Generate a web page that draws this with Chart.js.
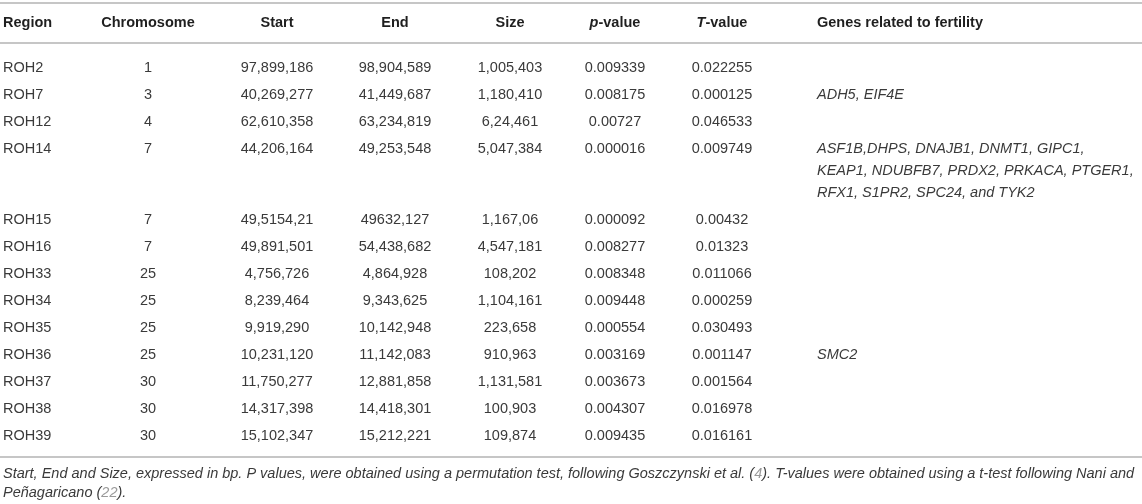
<!DOCTYPE html>
<html>
<head>
<meta charset="utf-8">
<script src="https://cdn.jsdelivr.net/npm/chart.js@4.4.1/dist/chart.umd.min.js"></script>
<style>
  html, body { margin: 0; padding: 0; background: #fff; }
  #table { display: block; }
</style>
</head>
<body>
<canvas id="table" width="1142" height="504"></canvas>
<script>
// table values (kept as printed, odd digit groups included)
const headers = ['Region', 'Chromosome', 'Start', 'End', 'Size', 'p-value', 'T-value', 'Genes related to fertility'];
const regions = ['ROH2', 'ROH7', 'ROH12', 'ROH14', 'ROH15', 'ROH16', 'ROH33', 'ROH34', 'ROH35', 'ROH36', 'ROH37', 'ROH38', 'ROH39'];
const chromosomes = [1, 3, 4, 7, 7, 7, 25, 25, 25, 25, 30, 30, 30];
const starts = ['97,899,186', '40,269,277', '62,610,358', '44,206,164', '49,5154,21', '49,891,501', '4,756,726', '8,239,464', '9,919,290', '10,231,120', '11,750,277', '14,317,398', '15,102,347'];
const ends = ['98,904,589', '41,449,687', '63,234,819', '49,253,548', '49632,127', '54,438,682', '4,864,928', '9,343,625', '10,142,948', '11,142,083', '12,881,858', '14,418,301', '15,212,221'];
const sizes = ['1,005,403', '1,180,410', '6,24,461', '5,047,384', '1,167,06', '4,547,181', '108,202', '1,104,161', '223,658', '910,963', '1,131,581', '100,903', '109,874'];
const pValues = ['0.009339', '0.008175', '0.00727', '0.000016', '0.000092', '0.008277', '0.008348', '0.009448', '0.000554', '0.003169', '0.003673', '0.004307', '0.009435'];
const tValues = ['0.022255', '0.000125', '0.046533', '0.009749', '0.00432', '0.01323', '0.011066', '0.000259', '0.030493', '0.001147', '0.001564', '0.016978', '0.016161'];
const genes = [
  [], ['ADH5, EIF4E'], [],
  ['ASF1B,DHPS, DNAJB1, DNMT1, GIPC1,', 'KEAP1, NDUBFB7, PRDX2, PRKACA, PTGER1,', 'RFX1, S1PR2, SPC24, and TYK2'],
  [], [], [], [], [], ['SMC2'], [], [], []
];
const footnote = [
  [['Start, End and Size, expressed in bp. P values, were obtained using a permutation test, following Goszczynski et al. (', 0], ['4', 1], ['). T-values were obtained using a t-test following Nani and', 0]],
  [['Peñagaricano (', 0], ['22', 1], [').', 0]]
];

// layout (scale units are canvas pixels)
const W = 1142, H = 504;
const colX = [3, 148, 277, 395, 510, 615, 722, 817];
const colAlign = ['left', 'center', 'center', 'center', 'center', 'center', 'center', 'left'];
const RULES_Y = [3, 43];
const HEADER_Y = 23;
const FIRST_ROW_Y = 68;
const ROW_H = 27;
const LINE_H = 22;
const FOOT_Y = [474, 493];

const FONT = '"Liberation Sans", Arial, Helvetica, sans-serif';
const TEXT = '#3a3a3a';
const HEAD = '#1f1f1f';
const RULE = '#c6c6c6';

const rowY = [];
let yy = FIRST_ROW_Y;
regions.forEach((r, i) => {
  rowY.push(yy);
  yy += ROW_H + Math.max(0, genes[i].length - 1) * LINE_H;
});
const BOTTOM_RULE_Y = rowY[rowY.length - 1] + 21;

const columns = [regions, chromosomes, starts, ends, sizes, pValues, tValues, genes.map(g => g[0] || '')];

const datasets = columns.map((col, c) => ({
  label: headers[c],
  data: rowY.map(y => ({ x: colX[c], y })),
  texts: col,
  pointRadius: 0,
  showLine: false
}));

function drawRuns(ctx, runs, x, y, align) {
  let total = 0;
  runs.forEach(r => { ctx.font = r.font; total += ctx.measureText(r.t).width; });
  let cx = align === 'center' ? x - total / 2 : x;
  ctx.textAlign = 'left';
  runs.forEach(r => {
    ctx.font = r.font;
    ctx.fillStyle = r.color;
    ctx.fillText(r.t, cx, y);
    cx += ctx.measureText(r.t).width;
  });
}

const tablePlugin = {
  id: 'tableText',
  afterDatasetsDraw(chart) {
    const { ctx, scales: { x, y } } = chart;
    ctx.save();
    ctx.textBaseline = 'middle';

    // rules
    ctx.strokeStyle = RULE;
    ctx.lineWidth = 2;
    [...RULES_Y, BOTTOM_RULE_Y].forEach(v => {
      const py = Math.round(y.getPixelForValue(v));
      ctx.beginPath();
      ctx.moveTo(x.getPixelForValue(0), py);
      ctx.lineTo(x.getPixelForValue(W), py);
      ctx.stroke();
    });

    // header
    const bold = 'bold 14.5px ' + FONT;
    const boldIt = 'italic bold 14.5px ' + FONT;
    headers.forEach((h, c) => {
      let runs = [{ t: h, font: bold, color: HEAD }];
      if (h === 'p-value' || h === 'T-value') {
        runs = [{ t: h[0], font: boldIt, color: HEAD }, { t: h.slice(1), font: bold, color: HEAD }];
      }
      drawRuns(ctx, runs, x.getPixelForValue(colX[c]), y.getPixelForValue(HEADER_Y), colAlign[c]);
    });

    // cells, placed on the scatter points
    const plain = '14.5px ' + FONT;
    const ital = 'italic 14.5px ' + FONT;
    chart.data.datasets.forEach((ds, c) => {
      const meta = chart.getDatasetMeta(c);
      ctx.fillStyle = TEXT;
      ctx.textAlign = colAlign[c];
      meta.data.forEach((el, i) => {
        if (c === 7) {
          ctx.font = ital;
          genes[i].forEach((line, k) => {
            ctx.fillText(line, el.x, y.getPixelForValue(rowY[i] + k * LINE_H));
          });
        } else {
          ctx.font = plain;
          ctx.fillText(String(ds.texts[i]), el.x, el.y);
        }
      });
    });

    // footnote
    footnote.forEach((line, k) => {
      const runs = line.map(([t, link]) => ({ t, font: ital, color: link ? '#9a9a9a' : TEXT }));
      drawRuns(ctx, runs, x.getPixelForValue(3), y.getPixelForValue(FOOT_Y[k]), 'left');
    });
    ctx.restore();
  }
};

new Chart(document.getElementById('table').getContext('2d'), {
  type: 'scatter',
  data: { datasets },
  options: {
    responsive: false,
    animation: false,
    events: [],
    layout: { padding: 0 },
    plugins: { legend: { display: false }, tooltip: { enabled: false } },
    scales: {
      x: { type: 'linear', min: 0, max: W, display: false },
      y: { type: 'linear', min: 0, max: H, reverse: true, display: false }
    }
  },
  plugins: [tablePlugin]
});
</script>
</body>
</html>
